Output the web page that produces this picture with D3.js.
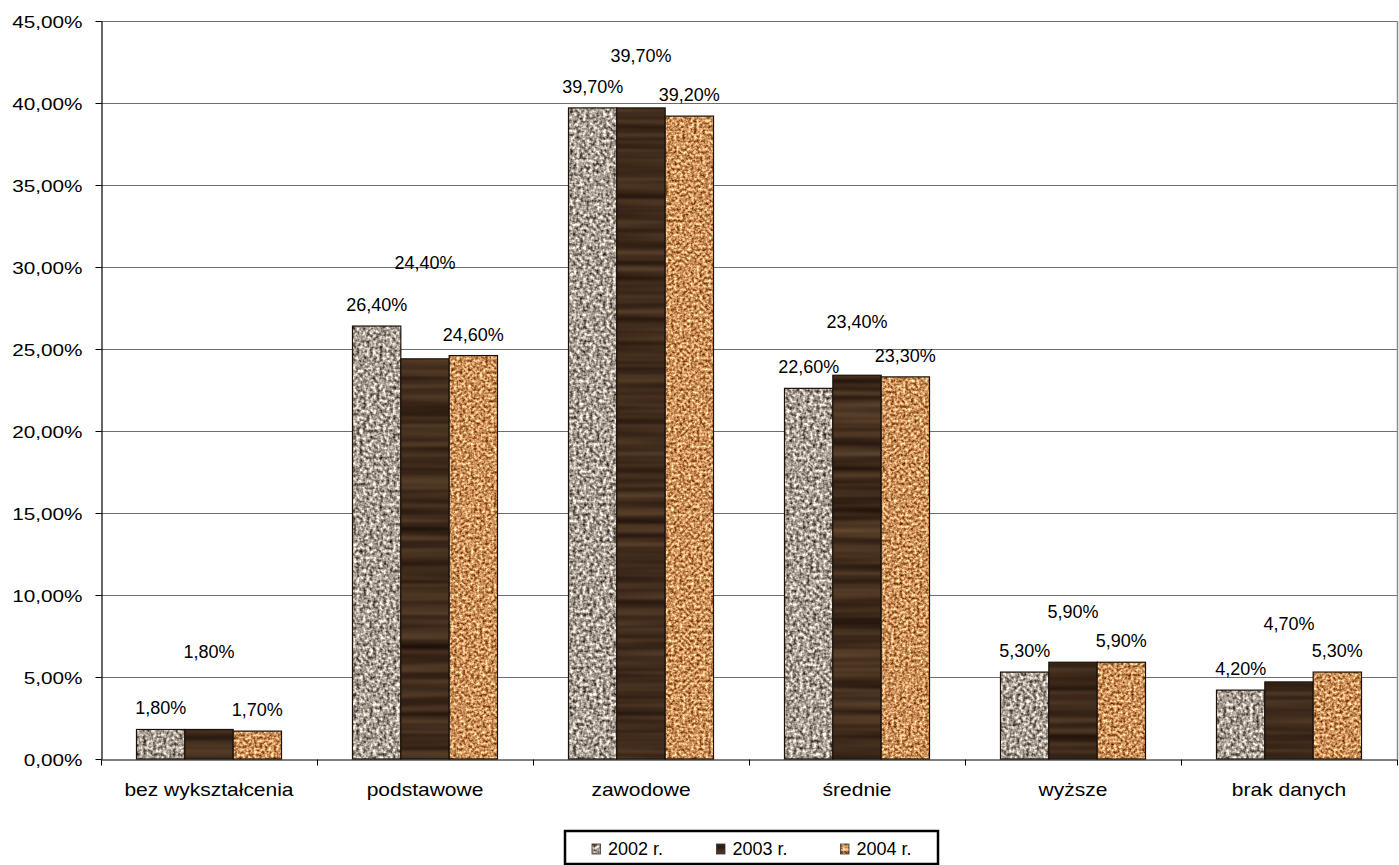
<!DOCTYPE html>
<html><head><meta charset="utf-8">
<script src="https://cdn.jsdelivr.net/npm/d3@7"></script>
<style>
html,body{margin:0;padding:0;background:#fff;}
svg{display:block;font-family:"Liberation Sans",Arial,sans-serif;}
</style></head>
<body>
<svg id="chart" width="1399" height="865"></svg>
<script>
// ---- data ----
const categories = ["bez wykształcenia","podstawowe","zawodowe","średnie","wyższe","brak danych"];
const seriesNames = ["2002 r.","2003 r.","2004 r."];
const values2002 = [1.8, 26.4, 39.7, 22.6, 5.3, 4.2];
const values2003 = [1.8, 24.4, 39.7, 23.4, 5.9, 4.7];
const values2004 = [1.7, 24.6, 39.2, 23.3, 5.9, 5.3];
const yTicks = [0,5,10,15,20,25,30,35,40,45];

// ---- layout (not data) ----
const midLabelLift = [71, 90, 46, 47, 44, 52]; // px lift of the 2003 labels (manually placed in source)
const mLeft = 101, mRight = 1397, mTop = 21, mBottom = 759;

const svg = d3.select("#chart");
const defs = svg.append("defs");

function texture(id, freq, oct, base, k, seed){
  const f = defs.append("filter").attr("id", id)
    .attr("x","0").attr("y","0").attr("width","1").attr("height","1")
    .attr("color-interpolation-filters","sRGB");
  f.append("feTurbulence").attr("type","fractalNoise").attr("baseFrequency",freq)
    .attr("numOctaves",oct).attr("seed",seed).attr("result","n");
  const m = [
    k[0],0,0,0,base[0]-0.5*k[0],
    k[1],0,0,0,base[1]-0.5*k[1],
    k[2],0,0,0,base[2]-0.5*k[2],
    0,0,0,0,1];
  f.append("feColorMatrix").attr("in","n").attr("type","matrix").attr("values",m.join(" ")).attr("result","c");
  f.append("feComposite").attr("in","c").attr("in2","SourceGraphic").attr("operator","in");
}
texture("tex0","0.3",2,[0.66,0.62,0.58],[1.5,1.45,1.4],3);
texture("tex1","0.003 0.12",2,[0.25,0.17,0.11],[0.35,0.28,0.2],7);
texture("tex2","0.35",2,[0.80,0.57,0.36],[1.2,1.3,1.2],11);
const baseColors = ["#a89f96","#3f2b1c","#cc935c"];

const y = d3.scaleLinear().domain([0,45]).range([mBottom, mTop]);
const p = 71/216;
const x0 = d3.scaleBand().domain(categories).range([mLeft, mRight]).paddingInner(p).paddingOuter(p/2);
const x1 = d3.scaleBand().domain(seriesNames).range([0, x0.bandwidth()]);

// gridlines
svg.append("g").selectAll("line").data(yTicks.filter(t=>t>0)).join("line")
  .attr("x1", mLeft).attr("x2", mRight)
  .attr("y1", d=>Math.round(y(d))+0.5).attr("y2", d=>Math.round(y(d))+0.5)
  .attr("stroke","#6e6e6e").attr("stroke-width",1);
// right border
svg.append("line").attr("x1",mRight+0.5).attr("x2",mRight+0.5).attr("y1",mTop).attr("y2",mBottom)
  .attr("stroke","#8a8a8a").attr("stroke-width",1.5);

// bars
const seriesData = [values2002, values2003, values2004];
const barsG = svg.append("g");
seriesData.forEach((vals, si) => {
  const g = barsG.append("g");
  const rows = categories.map((c,i)=>({c, v: vals[i], i}));
  g.selectAll("rect.fill").data(rows).join("rect").attr("class","fill")
    .attr("x", d=>x0(d.c)+x1(seriesNames[si]))
    .attr("y", d=>y(d.v))
    .attr("width", x1.bandwidth())
    .attr("height", d=>mBottom - y(d.v))
    .attr("fill", baseColors[si])
    .attr("filter", `url(#tex${si})`);
  g.selectAll("rect.edge").data(rows).join("rect").attr("class","edge")
    .attr("x", d=>x0(d.c)+x1(seriesNames[si]))
    .attr("y", d=>y(d.v))
    .attr("width", x1.bandwidth())
    .attr("height", d=>mBottom - y(d.v))
    .attr("fill","none").attr("stroke","#1a1208").attr("stroke-width",1.2);
  g.selectAll("text").data(rows).join("text")
    .attr("x", d=>x0(d.c)+x1(seriesNames[si])+x1.bandwidth()/2)
    .attr("y", d=> y(d.v) - (si===1 ? midLabelLift[d.i] : 15))
    .attr("text-anchor","middle").attr("font-size",18).attr("fill","#000")
    .text(d=>d3.format(".2f")(d.v).replace(".",",")+"%");
});

// y axis
const yAxis = d3.axisLeft(y).tickValues(yTicks).tickSize(6).tickSizeOuter(0)
  .tickFormat(d=>d3.format(".2f")(d).replace(".",",")+"%");
const yg = svg.append("g").attr("transform",`translate(${mLeft+0.5},0)`).call(yAxis);
yg.select(".domain").attr("stroke","#000").attr("stroke-width",1.2);
yg.selectAll(".tick line").attr("stroke","#000");
yg.selectAll(".tick text").attr("x",-19/1.2).attr("dy",null).attr("y",6)
  .attr("transform","scale(1.2,1)").attr("font-size",17.3).attr("fill","#000")
  .attr("font-family","Liberation Sans, Arial, sans-serif");

// x axis
const xAxis = d3.axisBottom(x0).tickSize(0).tickSizeOuter(0);
const xg = svg.append("g").attr("transform",`translate(0,${mBottom+0.5})`).call(xAxis);
xg.select(".domain").attr("stroke","#000").attr("stroke-width",1.2);
xg.selectAll(".tick text").attr("dy",null).attr("y",37).attr("x",0)
  .attr("transform","scale(1.2,1)").attr("font-size",17.5).attr("fill","#000")
  .attr("font-family","Liberation Sans, Arial, sans-serif");
// boundary ticks
const bounds = d3.range(categories.length+1).map(i=>mLeft + i*x0.step());
xg.selectAll("line.bt").data(bounds).join("line").attr("class","bt")
  .attr("x1",d=>Math.round(d)+0.5).attr("x2",d=>Math.round(d)+0.5).attr("y1",0).attr("y2",6)
  .attr("stroke","#000");

// legend
const lg = svg.append("g");
lg.append("rect").attr("x",565).attr("y",831).attr("width",373).attr("height",33)
  .attr("fill","#fff").attr("stroke","#000").attr("stroke-width",2.5);
const legX = [592, 716.5, 840.5];
seriesNames.forEach((s,i)=>{
  lg.append("rect").attr("x",legX[i]).attr("y",844).attr("width",8.5).attr("height",10)
    .attr("fill",baseColors[i]).attr("filter",`url(#tex${i})`);
  lg.append("rect").attr("x",legX[i]).attr("y",844).attr("width",8.5).attr("height",10)
    .attr("fill","none").attr("stroke","#333").attr("stroke-width",0.8);
  lg.append("text").attr("x",legX[i]+16).attr("y",855).attr("font-size",18).attr("fill","#000").text(s);
});
</script>
</body></html>
